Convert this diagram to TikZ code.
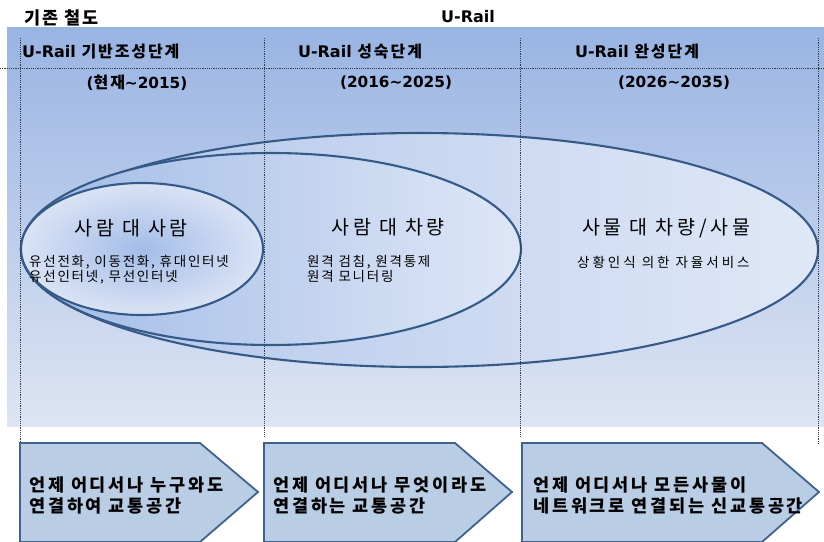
\documentclass[tikz,border=0pt]{standalone}
\usepackage{fontspec}
\setmainfont{Noto Sans CJK KR}
\newfontfamily\lat{DejaVu Sans}
\newfontfamily\krTitle[LetterSpace=12]{Noto Sans CJK KR}
\newfontfamily\krHead[LetterSpace=19]{Noto Sans CJK KR}
\newfontfamily\krSubA[LetterSpace=13]{Noto Sans CJK KR}
\newfontfamily\krSubB[LetterSpace=22]{Noto Sans CJK KR}
\newfontfamily\krArr[LetterSpace=16]{Noto Sans CJK KR}
\usetikzlibrary{shapes.geometric}
\definecolor{panelTop}{RGB}{153,180,227}
\definecolor{panelBot}{RGB}{221,229,243}
\definecolor{ellLine}{RGB}{54,90,135}
\definecolor{outerL}{RGB}{176,197,234}
\definecolor{outerR}{RGB}{224,232,247}
\definecolor{midL}{RGB}{160,186,229}
\definecolor{midR}{RGB}{222,231,247}
\definecolor{smallIn}{RGB}{163,189,232}
\definecolor{smallOut}{RGB}{218,227,245}
\definecolor{arrFill}{RGB}{185,205,229}
\definecolor{arrLine}{RGB}{63,98,145}
\definecolor{dashGray}{RGB}{60,60,60}
\newcommand{\LT}[1]{{\lat\fontsize{16}{19}\selectfont\bfseries #1}}
\newcommand{\LY}[1]{{\lat\fontsize{15.3}{19}\selectfont\bfseries #1}}
\begin{document}
\begin{tikzpicture}[x=1pt,y=-1pt,
  ell/.style={ellipse, draw=ellLine, line width=2.1pt, inner sep=0pt},
  vline/.style={draw=dashGray, line width=0.6pt, dash pattern=on 1.2pt off 1pt},
  arrowbox/.style={draw=arrLine, line width=1.8pt, fill=arrFill, line join=miter},
  toptitle/.style={font=\krTitle\fontsize{17.5}{20}\selectfont\bfseries, inner sep=0pt},
  stagetitle/.style={font=\krTitle\fontsize{16}{19}\selectfont\bfseries, inner sep=0pt},
  ellhead/.style={font=\krHead\fontsize{19.5}{22}\selectfont, inner sep=0pt},
  ellsub/.style={font=\krSubA\fontsize{13.5}{15}\selectfont, inner sep=0pt, align=left, anchor=west},
  arrtext/.style={font=\krArr\fontsize{17.5}{21}\selectfont\bfseries, inner sep=0pt, align=left, anchor=west}
]
\useasboundingbox (0,0) rectangle (824,541);
% background panel
\shade[top color=panelTop, bottom color=panelBot] (7,27) rectangle (824,426);
% ellipses
\node[ell, minimum width=797pt, minimum height=234pt, left color=outerL, right color=outerR] (outer) at (419.5,250) {};
\node[ell, minimum width=500pt, minimum height=192pt, left color=midL, right color=midR] (middle) at (271,249) {};
\node[ell, minimum width=242pt, minimum height=132pt, inner color=smallIn, outer color=smallOut] (small) at (142,249) {};
% dashed guide lines
\coordinate (h1) at (0,68); \coordinate (h2) at (824,68);
\draw[vline] (h1) -- (h2);
\coordinate (v1t) at (20,38); \coordinate (v1b) at (20,443);
\coordinate (v2t) at (264,38); \coordinate (v2b) at (264,437);
\coordinate (v3t) at (520,38); \coordinate (v3b) at (520,437);
\coordinate (v4t) at (818,38); \coordinate (v4b) at (818,443);
\draw[vline] (v1t) -- (v1b);
\draw[vline] (v2t) -- (v2b);
\draw[vline] (v3t) -- (v3b);
\draw[vline] (v4t) -- (v4b);
% titles
\node[toptitle, anchor=west] (gizon) at (24,18) {기존 철도};
\node[toptitle] (urail) at (468,17) {\LT{U-Rail}};
\node[stagetitle, anchor=west] (st1) at (22,52) {\LT{U-Rail} 기반조성단계};
\node[stagetitle] (st2) at (360,52) {\LT{U-Rail} 성숙단계};
\node[stagetitle] (st3) at (637,52) {\LT{U-Rail} 완성단계};
\node[stagetitle] (y1) at (137,83) {\LY{(}현재\LY{\textasciitilde2015)}};
\node[stagetitle] (y2) at (396,83) {\LY{(2016\textasciitilde2025)}};
\node[stagetitle] (y3) at (674,83) {\LY{(2026\textasciitilde2035)}};
% ellipse texts
\node[ellhead] (hd1) at (131,228) {사람 대 사람};
\node[ellhead] (hd2) at (388,227) {사람 대 차량};
\node[ellhead] (hd3) at (666,228) {사물 대 차량/사물};
\node[ellsub] (sb1) at (29,269.5) {유선전화, 이동전화, 휴대인터넷\\유선인터넷, 무선인터넷};
\node[ellsub] (sb2) at (307,268.5) {원격 검침, 원격통제\\원격 모니터링};
\node[ellsub, font=\krSubB\fontsize{13.5}{15}\selectfont] (sb3) at (577,262) {상황인식 의한 자율서비스};
% bottom arrows
\draw[arrowbox] (20,443) -- (200,443) -- (258,492) -- (200,542) -- (20,542) -- cycle;
\draw[arrowbox] (264,443) -- (455,443) -- (512,492) -- (455,542) -- (264,542) -- cycle;
\draw[arrowbox] (522,443) -- (762,443) -- (819,492) -- (762,542) -- (522,542) -- cycle;
\node[arrtext] (a1) at (29,495) {언제 어디서나 누구와도\\연결하여 교통공간};
\node[arrtext] (a2) at (273,495) {언제 어디서나 무엇이라도\\연결하는 교통공간};
\node[arrtext] (a3) at (533,495) {언제 어디서나 모든사물이\\네트워크로 연결되는 신교통공간};
\end{tikzpicture}
\end{document}
